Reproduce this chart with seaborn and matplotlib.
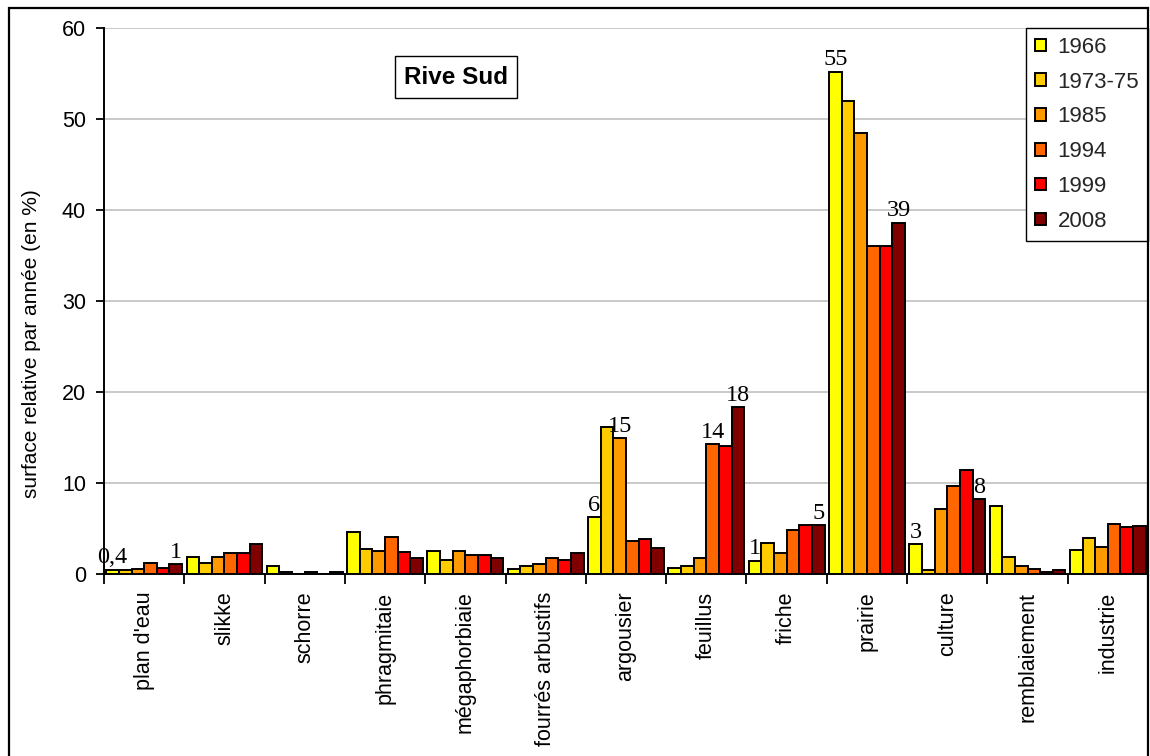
import numpy as np
import pandas as pd
import matplotlib
matplotlib.use("Agg")
import matplotlib.pyplot as plt
from matplotlib.patches import Rectangle
import seaborn as sns

# Habitat categories (south bank) and relative surface per year (%)
categories = ["plan d'eau", "slikke", "schorre", "phragmitaie", "mégaphorbiaie",
              "fourrés arbustifs", "argousier", "feuillus", "friche", "prairie",
              "culture", "remblaiement", "industrie"]
years = ["1966", "1973-75", "1985", "1994", "1999", "2008"]

v1966 = [0.4, 1.8, 0.8, 4.6, 2.5, 0.45, 6.2, 0.65, 1.4, 55.2, 3.2, 7.45, 2.55]
v1973 = [0.35, 1.2, 0.2, 2.7, 1.5, 0.8, 16.1, 0.85, 3.4, 52.0, 0.35, 1.85, 3.9]
v1985 = [0.5, 1.85, 0.0, 2.5, 2.5, 1.0, 14.9, 1.7, 2.2, 48.4, 7.1, 0.85, 2.9]
v1994 = [1.2, 2.2, 0.15, 4.05, 2.0, 1.65, 3.55, 14.2, 4.75, 36.0, 9.65, 0.5, 5.4]
v1999 = [0.65, 2.2, 0.0, 2.4, 2.0, 1.5, 3.75, 14.05, 5.3, 36.0, 11.35, 0.2, 5.1]
v2008 = [1.0, 3.2, 0.15, 1.65, 1.65, 2.2, 2.75, 18.3, 5.3, 38.6, 8.15, 0.35, 5.25]

colors = ["#FFFF00", "#FFCC00", "#FF9900", "#FF6600", "#FF0000", "#800000"]

# bars that carry a value label: (category, year)
labelled = [("plan d'eau", "1966"), ("plan d'eau", "2008"),
            ("argousier", "1966"), ("argousier", "1985"),
            ("feuillus", "1994"), ("feuillus", "2008"),
            ("friche", "1966"), ("friche", "2008"),
            ("prairie", "1966"), ("prairie", "2008"),
            ("culture", "1966"), ("culture", "2008")]

series = [v1966, v1973, v1985, v1994, v1999, v2008]
df = pd.DataFrame({
    "catégorie": np.tile(categories, len(years)),
    "année": np.repeat(years, len(categories)),
    "surface": np.concatenate(series),
})

sns.set_theme(style="white")
plt.rcParams["font.family"] = ["Liberation Sans", "DejaVu Sans"]

fig = plt.figure(figsize=(11.5, 7.56), dpi=100)
ax = fig.add_axes([104 / 1150, 1 - 573.5 / 756, (1148 - 104) / 1150, (573.5 - 28) / 756])

sns.barplot(data=df, x="catégorie", y="surface", hue="année", order=categories,
            hue_order=years, palette=colors, saturation=1, width=0.945,
            edgecolor="black", linewidth=1.4, ax=ax, zorder=3)

ax.set_xlim(-0.5, len(categories) - 0.5)
ax.set_ylim(0, 60)
ax.set_yticks(np.arange(0, 61, 10))
ax.yaxis.grid(True, color="#c0c0c0", linewidth=1.2, zorder=0)
ax.set_axisbelow(True)

for s in ["top", "right"]:
    ax.spines[s].set_visible(False)
for s in ["left", "bottom"]:
    ax.spines[s].set_color("black")
    ax.spines[s].set_linewidth(1.4)

# ticks between groups, labels at group centres
ax.set_xticks(np.arange(-0.5, len(categories), 1.0))
ax.set_xticklabels([])
ax.set_xticks(np.arange(len(categories)), categories, minor=True)
ax.tick_params(axis="x", which="major", direction="out", length=7, width=1.3,
               color="black", bottom=True)
ax.tick_params(axis="x", which="minor", length=0, pad=13, labelsize=15.5,
               labelrotation=90, labelcolor="black")
ax.tick_params(axis="y", direction="out", length=6, width=1.3, color="black",
               left=True, pad=7, labelsize=15.5, labelcolor="black")

ax.set_xlabel("")
ax.set_ylabel("surface relative par année (en %)", fontsize=15, color="black",
              va="center", ha="center")
ax.yaxis.set_label_coords((31.7 - 104) / 1044, (573.5 - 344) / 545.5)

# value labels above selected bars
for cat, yr in labelled:
    i = categories.index(cat)
    j = years.index(yr)
    bar = ax.containers[j].patches[i]
    val = series[j][i]
    txt = f"{val:.1f}".replace(".", ",") if val < 1 else f"{round(val):d}"
    ax.annotate(txt, (bar.get_x() + bar.get_width() / 2, val),
                xytext=(0, 1), textcoords="offset points", ha="center", va="bottom",
                fontsize=17.5, family=["Liberation Serif", "DejaVu Serif"],
                color="black", zorder=5)

# legend
handles, labels = ax.get_legend_handles_labels()
leg = ax.legend(handles, labels, loc="upper right", bbox_to_anchor=(1.0, 1.0),
                borderaxespad=0.0, fontsize=16, frameon=True, fancybox=False,
                framealpha=1, edgecolor="black", handlelength=0.5, handleheight=0.5,
                handletextpad=0.5, labelspacing=0.62, borderpad=0.4)
leg.get_frame().set_linewidth(1.0)
leg.set_zorder(6)

# title box
ax.text(0.337, 0.91, "Rive Sud", transform=ax.transAxes, ha="center", va="center",
        fontsize=17.5, fontweight="bold", color="black", zorder=6,
        bbox=dict(boxstyle="square,pad=0.38", facecolor="white", edgecolor="black",
                  linewidth=1.0))

# outer frame of the chart area
fig.patches.append(Rectangle((9 / 1150, -0.05), (1148 - 9) / 1150, 1.05 - 8 / 756,
                             transform=fig.transFigure, fill=False,
                             edgecolor="black", linewidth=1.6, zorder=10))

fig.savefig("out.png", dpi=100)
